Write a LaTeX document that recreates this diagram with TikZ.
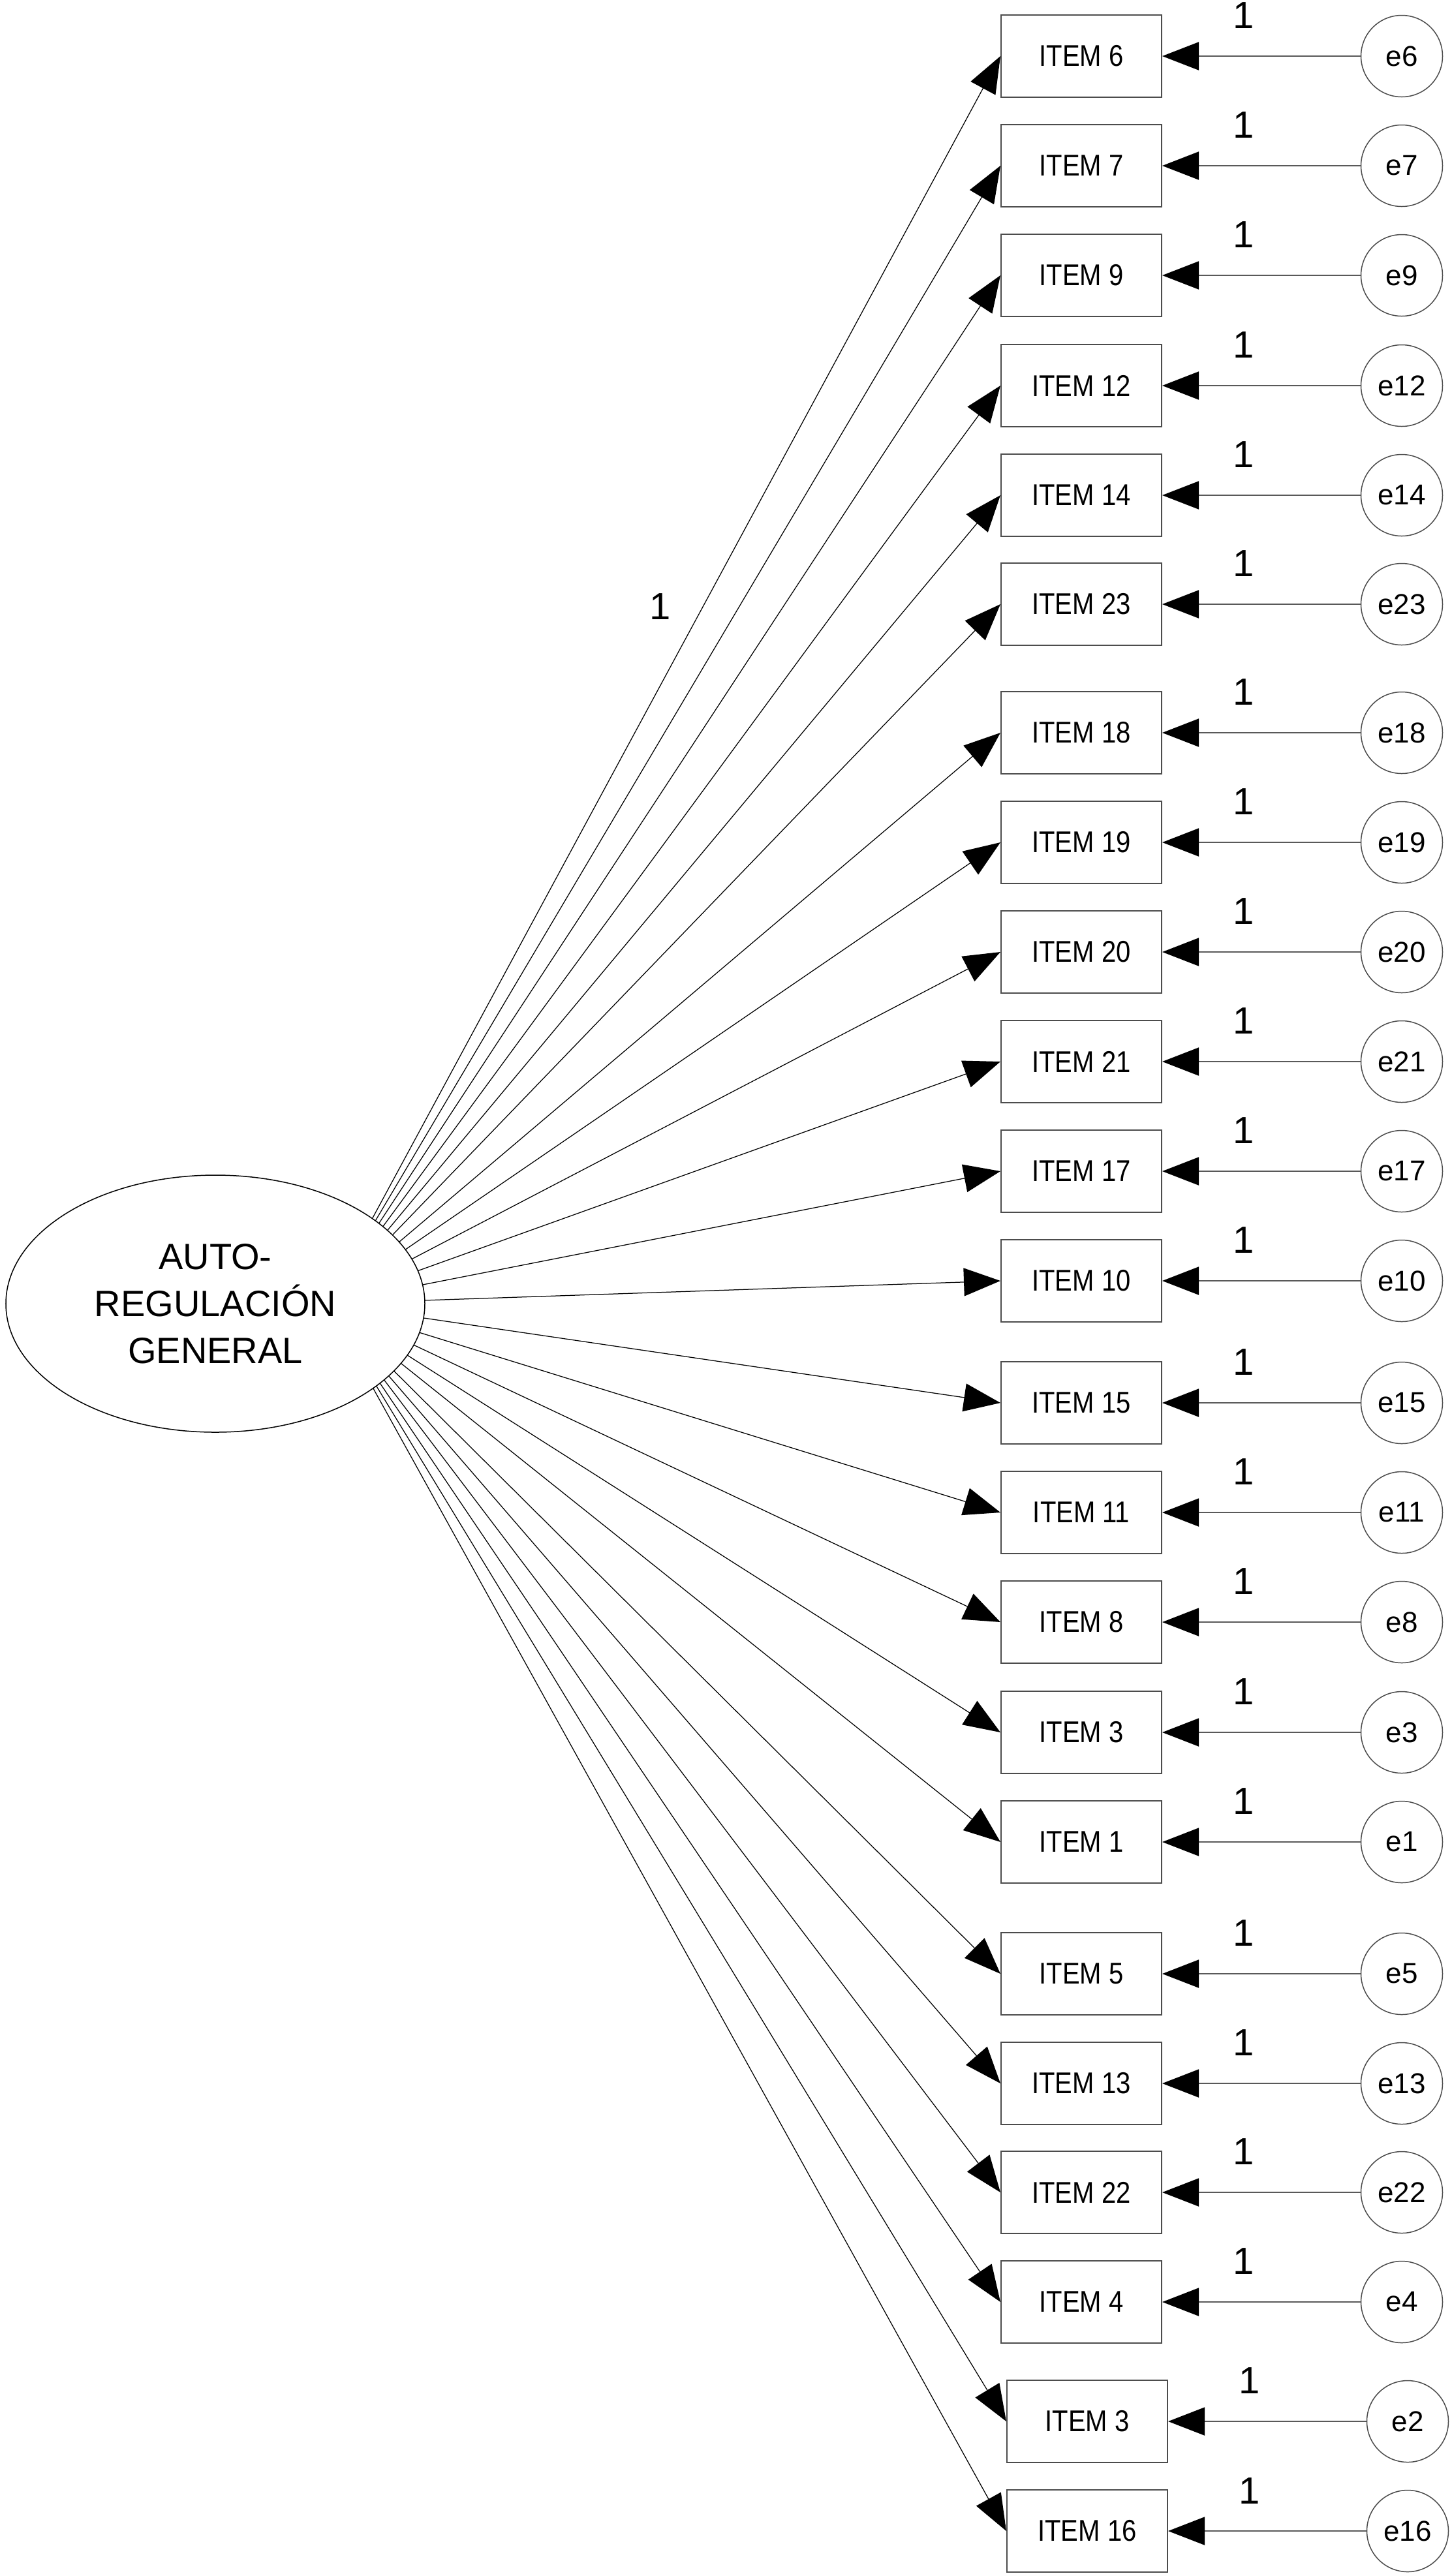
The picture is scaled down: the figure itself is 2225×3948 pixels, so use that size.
\documentclass[tikz,border=0pt]{standalone}
\usepackage{fontspec}
\setmainfont{Liberation Sans}
\newfontfamily\itemfont[FakeStretch=0.87]{Liberation Sans}
\usetikzlibrary{arrows.meta,shapes.geometric}
\begin{document}
\begin{tikzpicture}[x=0.2pt,y=-0.2pt,
  obs/.style={draw=black!70, line width=0.4pt, fill=white, minimum width=49.2pt, minimum height=25.2pt, inner sep=0pt, font=\itemfont\fontsize{9.2}{11}\selectfont},
  err/.style={circle, draw=black!70, line width=0.3pt, fill=white, minimum size=25pt, inner sep=0pt, font=\fontsize{8.8}{10}\selectfont},
  lat/.style={ellipse, draw=black, line width=0.3pt, fill=white, minimum width=128.4pt, minimum height=78.8pt, inner sep=0pt, align=center, font=\fontsize{11.2}{14.4}\selectfont},
  load/.style={draw=black, line width=0.25pt, -{Triangle[length=11.2pt,width=8.6pt,color=black]}},
  errpath/.style={draw=black!65, line width=0.35pt, -{Triangle[length=11.2pt,width=8.6pt,color=black]}},
  one/.style={font=\fontsize{11.6}{13}\selectfont, inner sep=0pt},
]
\fill[white] (0,0) rectangle (2225,3948);
\useasboundingbox (0,0) rectangle (2225,3948);
\coordinate (src) at (500,1998);
\foreach \k/\lab/\yy/\ee/\dx in {
 a/6/86/6/0, b/7/254/7/0, c/9/422/9/0, d/12/591/12/0, e/14/759/14/0,
 f/23/926/23/0, g/18/1123/18/0, h/19/1291/19/0, i/20/1459/20/0,
 j/21/1627/21/0, k/17/1795/17/0, l/10/1963/10/0, m/15/2150/15/0,
 n/11/2318/11/0, o/8/2486/8/0, p/3/2655/3/0, q/1/2823/1/0,
 r/5/3025/5/0, s/13/3193/13/0, t/22/3360/22/0, u/4/3528/4/0,
 v/3/3711/2/9, w/16/3879/16/9}
{
 \node[obs] (item\k) at (1657+\dx,\yy) {ITEM \lab};
 \node[err] (err\k) at (2148+\dx,\yy) {e\ee};
 \draw[errpath] (err\k) -- (item\k);
 \node[one] (one\k) at (1906+\dx,\yy-62) {1};
 \draw[load] (src) -- (item\k.west);
}
\path (src) -- node[one, pos=0.5586, xshift=-13pt] (loadone) {1} (itema.west);
\node[lat] (latent) at (330,1998) {AUTO-\\REGULACIÓN\\GENERAL};
\end{tikzpicture}
\end{document}
